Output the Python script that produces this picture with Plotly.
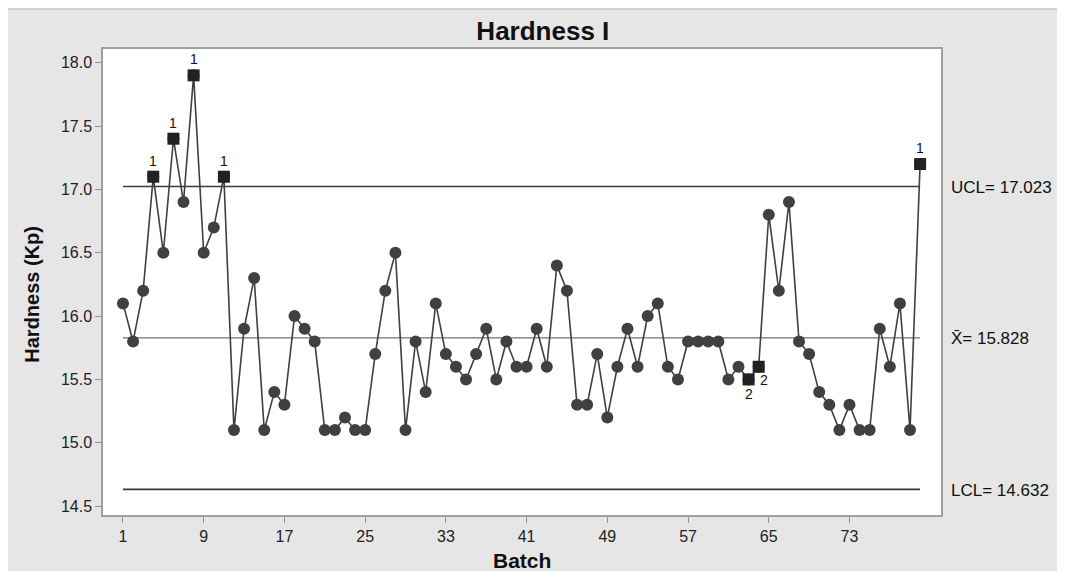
import plotly.graph_objects as go

# ---------------- data ----------------
batch = list(range(1, 81))
hardness = [
    16.1, 15.8, 16.2, 17.1, 16.5, 17.4, 16.9, 17.9, 16.5, 16.7,
    17.1, 15.1, 15.9, 16.3, 15.1, 15.4, 15.3, 16.0, 15.9, 15.8,
    15.1, 15.1, 15.2, 15.1, 15.1, 15.7, 16.2, 16.5, 15.1, 15.8,
    15.4, 16.1, 15.7, 15.6, 15.5, 15.7, 15.9, 15.5, 15.8, 15.6,
    15.6, 15.9, 15.6, 16.4, 16.2, 15.3, 15.3, 15.7, 15.2, 15.6,
    15.9, 15.6, 16.0, 16.1, 15.6, 15.5, 15.8, 15.8, 15.8, 15.8,
    15.5, 15.6, 15.5, 15.6, 16.8, 16.2, 16.9, 15.8, 15.7, 15.4,
    15.3, 15.1, 15.3, 15.1, 15.1, 15.9, 15.6, 16.1, 15.1, 17.2,
]
flag_batches = [4, 6, 8, 11, 63, 64, 80]
flag_tests = ["1", "1", "1", "1", "2", "2", "1"]

ucl = 17.023
center = 15.828
lcl = 14.632
limit_labels = ["UCL= 17.023", "X\u0304= 15.828", "LCL= 14.632"]
x_ticks = [1, 9, 17, 25, 33, 41, 49, 57, 65, 73]
y_ticks = [14.5, 15.0, 15.5, 16.0, 16.5, 17.0, 17.5, 18.0]

FONT = "Liberation Sans, Arial, Helvetica, sans-serif"
DARK = "#404040"

fig = go.Figure()

# control lines
for val, col, w in [(ucl, "#3a3a3a", 1.6), (center, "#707070", 1.4), (lcl, "#3a3a3a", 1.6)]:
    fig.add_trace(go.Scatter(x=[batch[0], batch[-1]], y=[val, val], mode="lines",
                             line=dict(color=col, width=w), hoverinfo="skip",
                             showlegend=False))

# main series
fig.add_trace(go.Scatter(x=batch, y=hardness, mode="lines+markers",
                         line=dict(color=DARK, width=1.6),
                         marker=dict(symbol="circle", size=12, color=DARK),
                         showlegend=False))

# flagged points
fx = flag_batches
fy = [hardness[b - 1] for b in flag_batches]
fig.add_trace(go.Scatter(x=fx, y=fy, mode="markers",
                         marker=dict(symbol="square", size=12, color="#222222"),
                         showlegend=False))

annotations = []
for b, t in zip(flag_batches, flag_tests):
    v = hardness[b - 1]
    if t == "1":
        annotations.append(dict(x=b, y=v, text=t, showarrow=False, yshift=16,
                                font=dict(family=FONT, size=14, color="#111")))
    elif b == 63:
        annotations.append(dict(x=b, y=v, text=t, showarrow=False, yshift=-15,
                                font=dict(family=FONT, size=14, color="#111")))
    else:
        annotations.append(dict(x=b, y=v, text=t, showarrow=False, xshift=5, yshift=-13,
                                font=dict(family=FONT, size=14, color="#111")))

for val, lab in zip([ucl, center, lcl], limit_labels):
    annotations.append(dict(xref="paper", x=1.0095, y=val, yref="y", text=lab,
                            xanchor="left", yanchor="middle", yshift=-1, showarrow=False,
                            font=dict(family=FONT, size=17, color="#111")))

# axis titles
annotations.append(dict(xref="paper", yref="paper", x=0.5, y=-0.097, text="<b>Batch</b>",
                        showarrow=False, xanchor="center", yanchor="middle",
                        font=dict(family=FONT, size=21, color="#111")))
annotations.append(dict(xref="paper", yref="paper", x=-0.084, y=0.474,
                        text="<b>Hardness (Kp)</b>", textangle=-90,
                        showarrow=False, xanchor="center", yanchor="middle",
                        font=dict(family=FONT, size=20, color="#111")))

# the page adds an 8px body margin, so the figure is laid out 8px smaller
fig.update_layout(
    width=1057, height=563,
    margin=dict(l=95, r=124, t=41, b=56),
    paper_bgcolor="white",
    plot_bgcolor="white",
    title=dict(text="<b>Hardness I</b>", x=0.506, xref="container", xanchor="center",
               y=1 - 23 / 563, yref="container", yanchor="middle",
               font=dict(family=FONT, size=26, color="#111")),
    annotations=annotations,
    shapes=[
        dict(type="rect", xref="paper", yref="paper", x0=-0.12, x1=1.16,
             y0=-0.14, y1=1.0858, fillcolor="#e6e6e6",
             line=dict(color="#c4c4c4", width=1.5), layer="below"),
        dict(type="rect", xref="paper", yref="paper", x0=0, x1=1, y0=0, y1=1,
             fillcolor="white", line=dict(width=0), layer="below"),
    ],
    xaxis=dict(range=[-0.98, 82.07], tickvals=x_ticks, ticks="outside", ticklen=6,
               tickcolor="#909090", showline=True, mirror=True, linecolor="#a0a0a0",
               linewidth=1.5, showgrid=False, zeroline=False,
               tickfont=dict(family=FONT, size=16, color="#222")),
    yaxis=dict(range=[14.43, 18.108], tickvals=y_ticks, tickformat=".1f", ticks="outside",
               ticklen=6, tickcolor="#909090", showline=True, mirror=True,
               linecolor="#a0a0a0", linewidth=1.5, showgrid=False, zeroline=False,
               tickfont=dict(family=FONT, size=16, color="#222")),
)

fig.write_html("out.html")
